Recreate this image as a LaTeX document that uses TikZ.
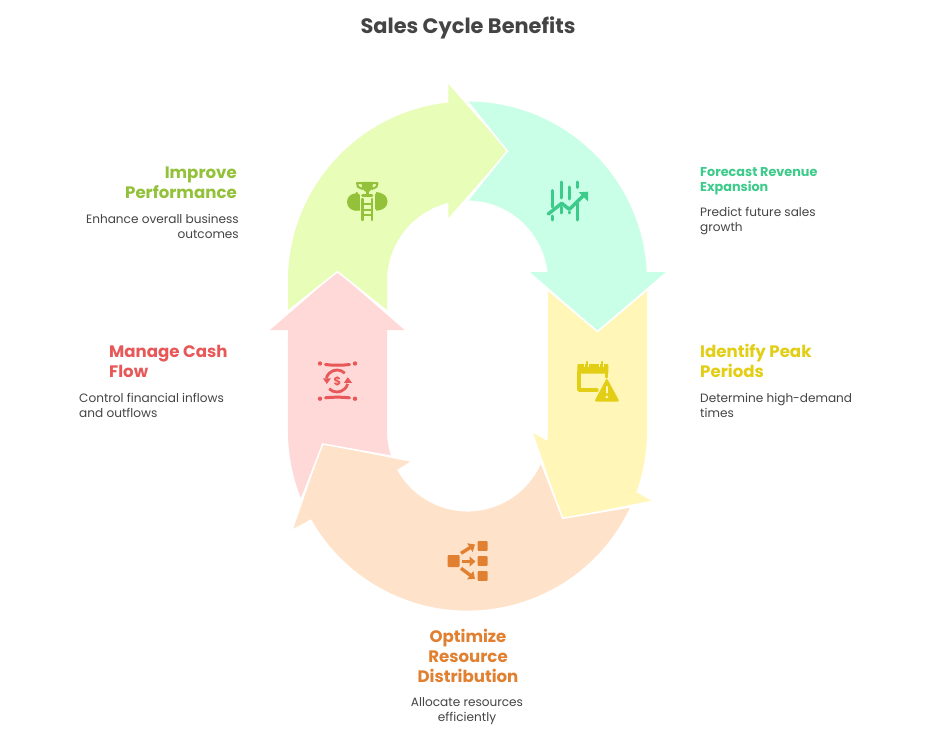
\documentclass[tikz,border=0pt]{standalone}
\usepackage{fontspec}
\setmainfont{Poppins}
\usetikzlibrary{arrows.meta}
\definecolor{inkGray}{RGB}{68,68,68}
\definecolor{greenFill}{RGB}{232,253,184}
\definecolor{greenInk}{RGB}{147,193,58}
\definecolor{tealFill}{RGB}{200,255,230}
\definecolor{tealInk}{RGB}{60,203,138}
\definecolor{yellowFill}{RGB}{255,246,184}
\definecolor{yellowInk}{RGB}{226,206,20}
\definecolor{orangeFill}{RGB}{255,226,202}
\definecolor{orangeInk}{RGB}{224,128,48}
\definecolor{pinkFill}{RGB}{255,216,216}
\definecolor{pinkInk}{RGB}{232,88,88}
\tikzset{
  seam/.style={draw=white, line width=1.5pt, line cap=round},
  headline/.style={font=\fontsize{16.6}{19.8}\selectfont\bfseries, inner sep=0pt},
  blurb/.style={font=\fontsize{12.1}{15}\selectfont, text=inkGray, inner sep=0pt},
  iconline/.style={line width=#1, line cap=round, line join=round},
  iconline/.default=3pt
}

\begin{document}
\begin{tikzpicture}[x=1pt,y=-1pt]
    \useasboundingbox[fill=white] (0,0) rectangle (932,741);
    % arrows of the ring
    \fill[greenFill] (288,311) -- (288,281) arc[start angle=180, end angle=96.15, radius=179.5pt]
      -- (448.3,84) -- (507.3,151) -- (448.3,218) -- (448.3,202.8)
      arc[start angle=103.8, end angle=180, radius=80.5pt] -- (387,311) -- (337.5,271.7) -- cycle;
    \fill[tealFill] (467.5,101.5) arc[start angle=90, end angle=2.87, radius=179.5pt]
      -- (665.7,272) -- (597.5,330.7) -- (530,272) -- (547.5,272)
      arc[start angle=6.4, end angle=90, radius=80.5pt] -- (507.3,151) -- cycle;
    \fill[yellowFill] (548,290) -- (597.5,331.5) -- (647,290) -- (647,431)
      arc[start angle=0, end angle=-19.9, radius=179.5pt] -- (651,500.7) -- (562.7,518.3)
      -- (533.3,433.3) -- (547.5,441) -- (548,431) -- cycle;
    \fill[orangeFill] (630.2,506.9) arc[start angle=-25, end angle=-150.6, radius=179.5pt]
      -- (293.3,528.7) -- (322.7,444) -- (410,461.7) -- (397,469.8)
      arc[start angle=-151.2, end angle=-23.5, radius=80.5pt] -- (562.7,518.3) -- cycle;
    \fill[pinkFill] (337.5,271.7) -- (404.5,330) -- (387,330) -- (387,431)
      arc[start angle=180, end angle=197.9, radius=80.5pt] -- (322.7,444) -- (301.4,499.1)
      arc[start angle=202.3, end angle=180, radius=179.5pt] -- (288,330) -- (270,330) -- cycle;
    % white seams where a head meets the next arrow
    \draw[seam] (288,311) -- (337.5,271.7) -- (387,311);
    \draw[seam] (467.5,101.5) -- (507.3,151) -- (467.5,200.5);
    \draw[seam] (548,290) -- (597.5,331.5) -- (647,290);
    \draw[seam] (630.2,506.9) -- (562.7,518.3) -- (541.3,463.1);
    \draw[seam] (390,456) -- (322.7,444) -- (301.4,499.1);

    % trophy and ladder
    \fill[greenInk] (355.5,202) circle (8.5pt);
    \fill[greenInk] (350,199) -- (357,191.7) -- (361,198) -- (360,210.7) -- (354,210.7) -- cycle;
    \fill[greenInk] (379,201.5) circle (8.5pt);
    \fill[greenInk] (376,192) -- (381,193) -- (381,210) -- (376,210.7) -- cycle;
    \fill[greenFill] (360,193) rectangle (374.5,222);
    \fill[greenInk] (361.5,182) -- (373,182) -- (372.5,188) -- (369.5,191.5) -- (365,191.5) -- (362,188) -- cycle;
    \draw[greenInk, iconline=2pt] (362,183.2) -- (357,183.2) -- (358,186.8) -- (362.5,189);
    \draw[greenInk, iconline=2pt] (372.5,183.2) -- (377.5,183.2) -- (376.5,186.8) -- (372,189);
    \draw[greenInk, iconline=2.6pt] (367.2,190) -- (367.2,195);
    \draw[greenInk, iconline=2.6pt] (362.5,195.7) -- (372,195.7);
    \draw[greenInk, iconline=2.4pt] (362.5,199) -- (362.5,220);
    \draw[greenInk, iconline=2.4pt] (371.7,199) -- (371.7,220);
    \foreach \ypos in {204,210,215}
      \draw[greenInk, line width=2pt] (362.5,\ypos) -- (371.7,\ypos);

    % price bars with rising arrow
    \draw[tealInk, iconline] (552.7,190.5) -- (552.7,207) (552.7,216) -- (552.7,220);
    \draw[tealInk, iconline] (561,182) -- (561,198) (561,207) -- (561,213);
    \draw[tealInk, iconline] (569.3,187) -- (569.3,199) (569.3,212) -- (569.3,213);
    \draw[tealInk, iconline] (577.7,182) -- (577.7,187.5) (577.7,203) -- (577.7,220);
    \draw[tealInk, iconline=3.4pt] (548.3,214) -- (561.7,203.3) -- (569.3,209.3) -- (584,195);
    \fill[tealInk] (578.8,192.2) -- (588,191.7) -- (588,201.5) -- cycle;

    % calendar with warning sign
    \fill[yellowInk, rounded corners=1pt] (577.3,364) rectangle (608.3,373.5);
    \draw[yellowInk, iconline=3.4pt] (579,372) -- (579,390) -- (597,390);
    \draw[yellowInk, iconline=3.4pt] (606.7,372) -- (606.7,377);
    \draw[yellowFill, line width=1.2pt] (584.6,361) -- (584.6,367) (588.8,361) -- (588.8,367);
    \draw[yellowFill, line width=1.2pt] (599.6,361) -- (599.6,367) (603.8,361) -- (603.8,367);
    \draw[yellowInk, iconline=2.2pt] (586.7,362) -- (586.7,367);
    \draw[yellowInk, iconline=2.2pt] (601.7,362) -- (601.7,367);
    \fill[yellowInk, rounded corners=2pt] (606.8,378) -- (619.5,401.5) -- (594.3,401.5) -- cycle;
    \draw[yellowFill, iconline=2.6pt] (606.8,387) -- (606.8,392.5);
    \fill[yellowFill] (606.8,397) circle (1.5pt);

    % coin between two bands
    \draw[pinkInk, iconline=3pt] (325.5,364.5) .. controls (333,365.5) and (342,365.5) .. (349.5,364.5);
    \draw[pinkInk, iconline=3pt] (325.5,397.8) .. controls (333,397) and (342,397) .. (349.5,397.8);
    \foreach \xpos in {320,355} {
      \fill[pinkInk] (\xpos,363.5) circle (2.2pt);
      \fill[pinkInk] (\xpos,398.7) circle (2.2pt);
    }
    \draw[pinkInk, line width=2.8pt] (344.8,373.2) arc[start angle=45, end angle=165, radius=11pt];
    \draw[pinkInk, line width=2.8pt] (329.2,388.8) arc[start angle=225, end angle=345, radius=11pt];
    \fill[pinkInk] (323,378.3) -- (331,378.3) -- (326.8,384) -- cycle;
    \fill[pinkInk] (344,382.8) -- (352,382.8) -- (347.8,377.2) -- cycle;
    \node[text=pinkInk, font=\fontsize{11.5}{11.5}\selectfont\bfseries, inner sep=0pt] (coinsign) at (337.3,381) {\$};

    % source box feeding three boxes
    \fill[orangeInk, rounded corners=1pt] (447.5,555) rectangle (459.5,567);
    \foreach \ypos in {541,556,571}
      \fill[orangeInk, rounded corners=1pt] (477.5,\ypos) rectangle (487.7,\ypos+9.8);
    \draw[orangeInk, line width=3.4pt, -{Triangle[width=10pt,length=6pt]}] (461,553.3) -- (475,544.5);
    \draw[orangeInk, line width=3.4pt, -{Triangle[width=10pt,length=6pt]}] (462,561.5) -- (475.5,561.5);
    \draw[orangeInk, line width=3.4pt, -{Triangle[width=10pt,length=6pt]}] (461,568.3) -- (475,578.8);

    % labels
    \node[font=\fontsize{20.9}{24}\selectfont\bfseries, text=inkGray, inner sep=0pt] (charttitle) at (468,27.5) {Sales Cycle Benefits};

    \node[headline, text=greenInk, align=right, anchor=east] (improvehead) at (237,183) {Improve\\Performance};
    \node[blurb, align=right, anchor=east] (improvetext) at (239,226.3) {Enhance overall business\\outcomes};

    \node[headline, text=pinkInk, align=left, anchor=west] (cashhead) at (109,361.7) {Manage Cash\\Flow};
    \node[blurb, align=left, anchor=west] (cashtext) at (79,405.3) {Control financial inflows\\and outflows};

    \node[font=\fontsize{12.8}{15}\selectfont\bfseries, text=tealInk, align=left, anchor=west, inner sep=0pt] (forecasthead) at (700,181) {Forecast Revenue\\Expansion};
    \node[blurb, align=left, anchor=west] (forecasttext) at (700,221.3) {Predict future sales\\growth};

    \node[headline, text=yellowInk, align=left, anchor=west] (peakhead) at (700,361) {Identify Peak\\Periods};
    \node[blurb, align=left, anchor=west] (peaktext) at (700,405.3) {Determine high-demand\\times};

    \node[headline, text=orangeInk, align=center] (optimizehead) at (468,656) {Optimize\\Resource\\Distribution};
    \node[blurb, align=center] (optimizetext) at (467,711.3) {Allocate resources\\efficiently};
  \end{tikzpicture}
\end{document}
